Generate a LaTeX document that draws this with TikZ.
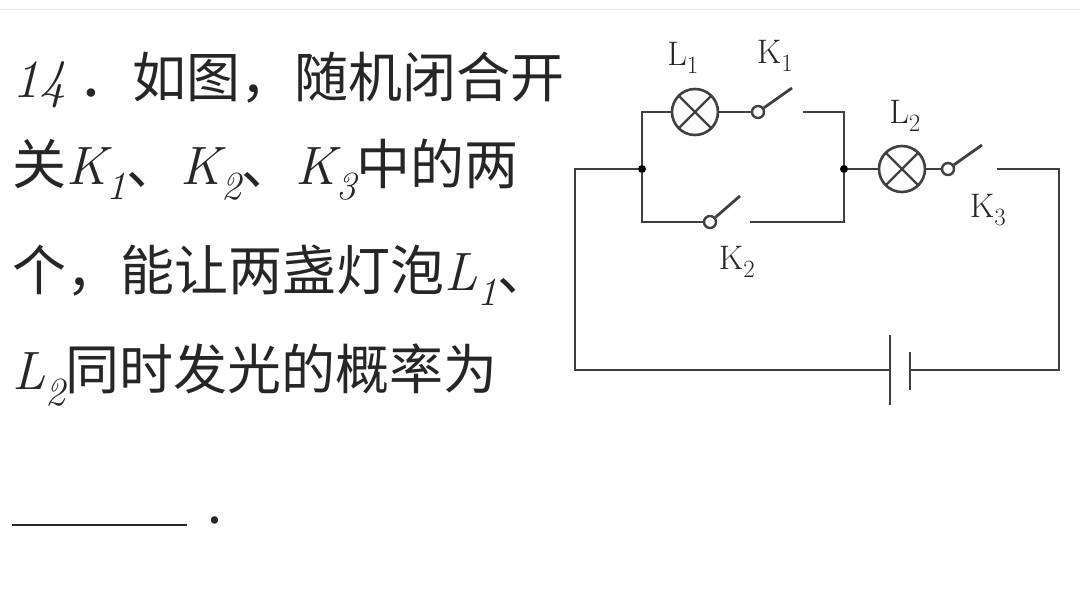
\documentclass[tikz,border=0pt]{standalone}
\usepackage{fontspec}
\newfontfamily\cjk{Noto Sans CJK SC}
\newcommand\mvar[2]{{\rmfamily\itshape #1\raisebox{-0.28em}{\fontsize{40}{40}\selectfont #2}}}
\begin{document}
\begin{tikzpicture}[x=1pt,y=-1pt,
  w/.style={line width=2.8pt,color=black!75},
  txt/.style={anchor=west,inner sep=0,font=\cjk\fontsize{54}{54}\selectfont,text=black!85},
  lab/.style={inner sep=0,font=\rmfamily\fontsize{34}{34}\selectfont,text=black!85},
  lamp/.style={circle,draw,line width=2.6pt,color=black!75,minimum size=46pt,inner sep=0,path picture={\draw[line width=2.4pt,black!75] (path picture bounding box.south west)--(path picture bounding box.north east) (path picture bounding box.north west)--(path picture bounding box.south east);}},
  cnt/.style={circle,draw,line width=2.4pt,color=black!75,fill=white,minimum size=12pt,inner sep=0},
  dot/.style={circle,fill=black,minimum size=8pt,inner sep=0}]
\useasboundingbox[fill=white] (0,0) rectangle (1080,596);
\draw[black!10] (0,9)--(1080,9);
% text
\node[txt] (t1) at (12,80) {{\rmfamily\itshape 14} ．如图，随机闭合开};
\node[txt] (t2) at (12,170) {关\mvar{K}{1}、\mvar{K}{2}、\mvar{K}{3}中的两};
\node[txt] (t3) at (12,275) {个，能让两盏灯泡\mvar{L}{1}、};
\node[txt] (t4) at (12,375) {\mvar{L}{2}同时发光的概率为};
\draw[line width=2pt,black!85] (12,525)--(187,525);
\node[txt] (t5) at (207,520) {.};
% circuit
\node[dot] (ja) at (642,169) {};
\node[dot] (jb) at (844,169) {};
\node[lamp] (l1) at (695,112) {};
\node[cnt] (k1) at (758,112) {};
\coordinate (k1e) at (803,112);
\node[lamp] (l2) at (902,169) {};
\node[cnt] (k3) at (948,169) {};
\coordinate (k3e) at (997,169);
\node[cnt] (k2) at (710,222) {};
\coordinate (k2e) at (750,222);
\draw[w] (ja) |- (l1) (l1)--(k1) (k1e) -| (jb);
\draw[w] (k1) -- ++(34,-24);
\draw[w] (ja) |- (k2) (k2e) -| (jb);
\draw[w] (k2) -- ++(30,-26);
\draw[w] (jb) -- (l2) (l2) -- (k3);
\draw[w] (k3) -- ++(34,-24);
\coordinate (bl) at (890,370);
\coordinate (br) at (910,370);
\draw[w] (ja) -- (575,169) |- (bl);
\draw[w] (k3e) -- (1059,169) |- (br);
\draw[w] (890,335)--(890,405);
\draw[w] (910,352)--(910,390);
\node[lab] (L1) at (683,58) {L$_1$};
\node[lab] (K1) at (775,56) {K$_1$};
\node[lab] (L2) at (905,116) {L$_2$};
\node[lab] (K3) at (988,210) {K$_3$};
\node[lab] (K2) at (737,262) {K$_2$};
\end{tikzpicture}
\end{document}
